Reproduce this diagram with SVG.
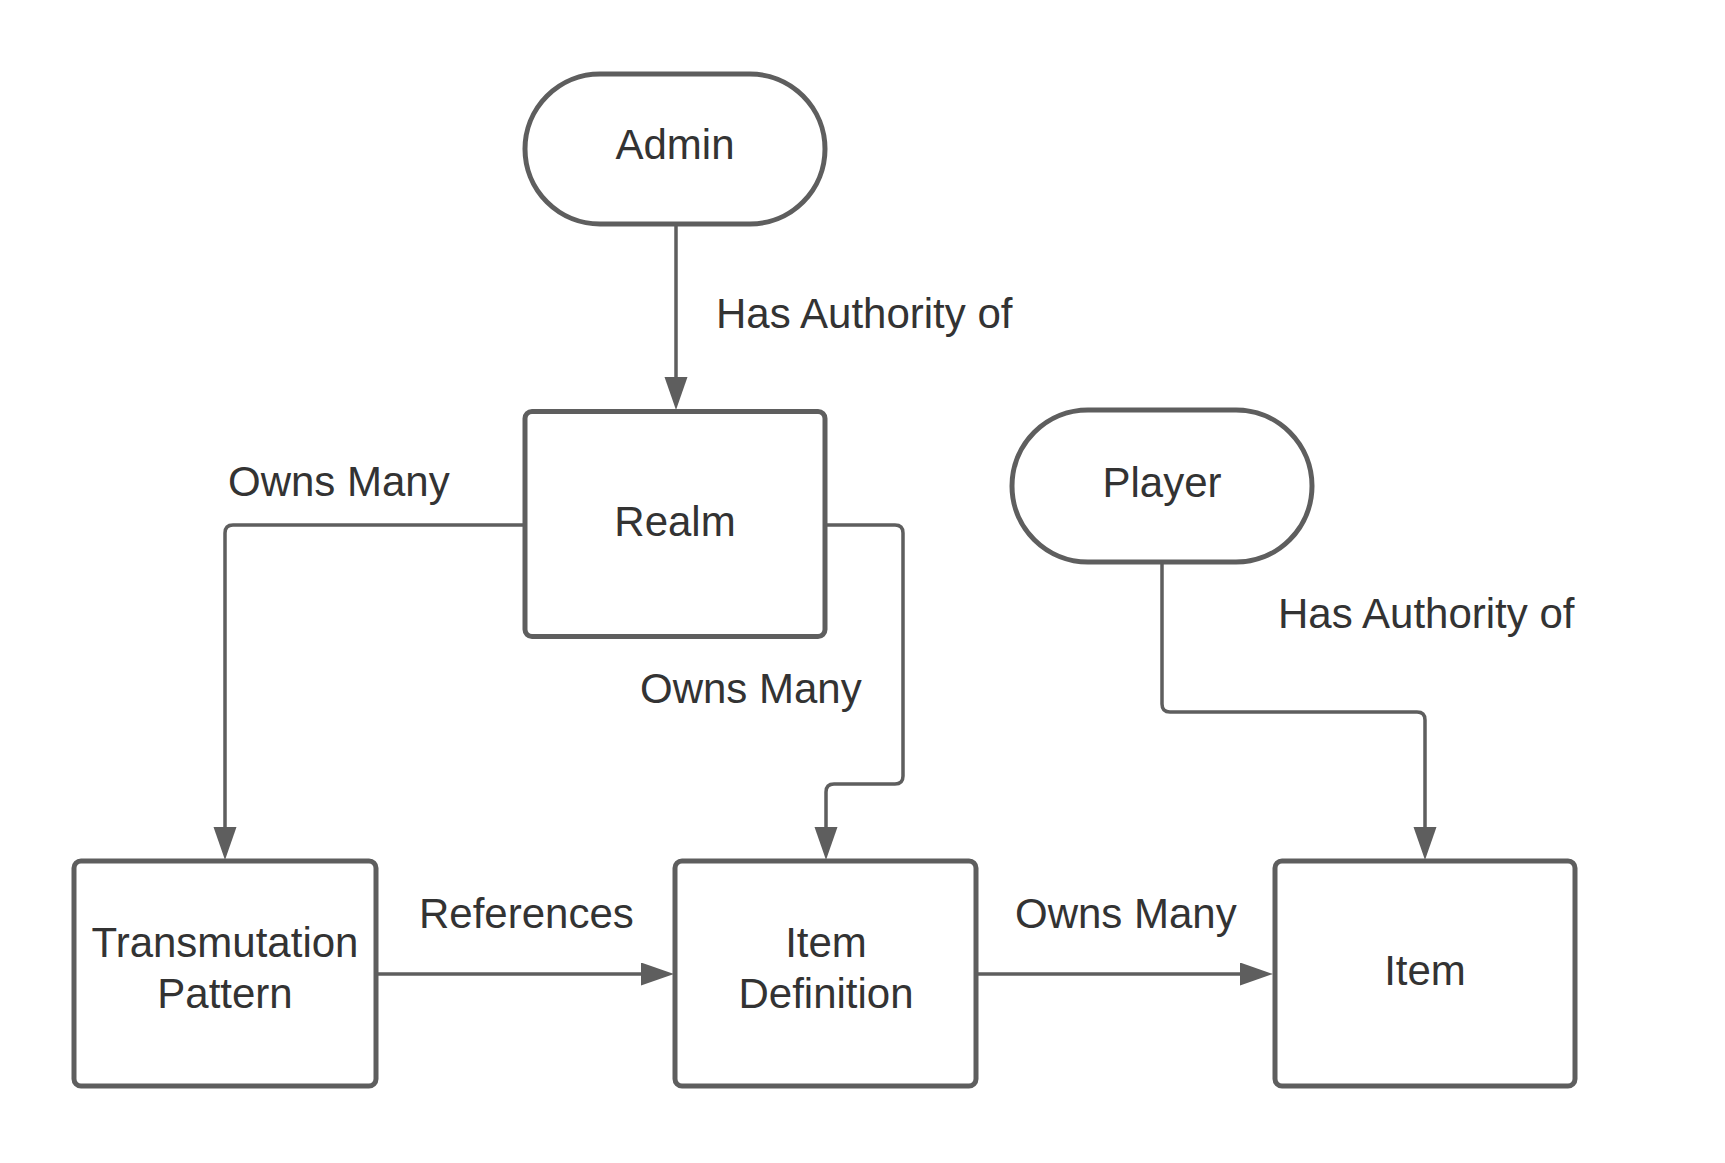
<svg xmlns="http://www.w3.org/2000/svg" width="1725" height="1163" viewBox="0 0 1725 1163">
<style>
.node{fill:#ffffff;stroke:#5e5e5e;stroke-width:5}
.conn{fill:none;stroke:#5e5e5e;stroke-width:3.5}
text{font-family:"Liberation Sans",Arial,sans-serif;font-size:42px;fill:#333333}
.c{text-anchor:middle}
</style>
<defs>
<marker id="arrow" markerUnits="userSpaceOnUse" markerWidth="34" markerHeight="24" refX="3" refY="11.5" orient="auto">
<path d="M0,0 L33,11.5 L0,23 z" fill="#5e5e5e"/>
</marker>
</defs>
<rect width="1725" height="1163" fill="#ffffff"/>
<g id="connectors">
<path class="conn" d="M676 225 V380" marker-end="url(#arrow)"/>
<path class="conn" d="M524 525 H233 Q225 525 225 533 V830" marker-end="url(#arrow)"/>
<path class="conn" d="M827 525 H895 Q903 525 903 533 V776 Q903 784 895 784 H834 Q826 784 826 792 V830" marker-end="url(#arrow)"/>
<path class="conn" d="M1162 563 V704 Q1162 712 1170 712 H1417 Q1425 712 1425 720 V830" marker-end="url(#arrow)"/>
<path class="conn" d="M376 974 H644" marker-end="url(#arrow)"/>
<path class="conn" d="M977 974 H1243" marker-end="url(#arrow)"/>
<text x="716" y="328">Has Authority of</text>
<text x="228" y="496">Owns Many</text>
<text x="640" y="703">Owns Many</text>
<text x="1278" y="628">Has Authority of</text>
<text x="419" y="928">References</text>
<text x="1015" y="928">Owns Many</text>
</g>
<g id="admin">
<rect class="node" x="525" y="74" width="300" height="150" rx="75"/>
<text class="c" x="675" y="159">Admin</text>
</g>
<g id="realm">
<rect class="node" x="525" y="411.5" width="300" height="225" rx="7"/>
<text class="c" x="675" y="536">Realm</text>
</g>
<g id="player">
<rect class="node" x="1012" y="410" width="300" height="152" rx="76"/>
<text class="c" x="1162" y="497">Player</text>
</g>
<g id="transmutation-pattern">
<rect class="node" x="74" y="861" width="302" height="225" rx="7"/>
<text class="c" x="225" y="957">Transmutation</text>
<text class="c" x="225" y="1008">Pattern</text>
</g>
<g id="item-definition">
<rect class="node" x="675" y="861" width="301" height="225" rx="7"/>
<text class="c" x="826" y="957">Item</text>
<text class="c" x="826" y="1008">Definition</text>
</g>
<g id="item">
<rect class="node" x="1275" y="861" width="300" height="225" rx="7"/>
<text class="c" x="1425" y="985">Item</text>
</g>
</svg>
